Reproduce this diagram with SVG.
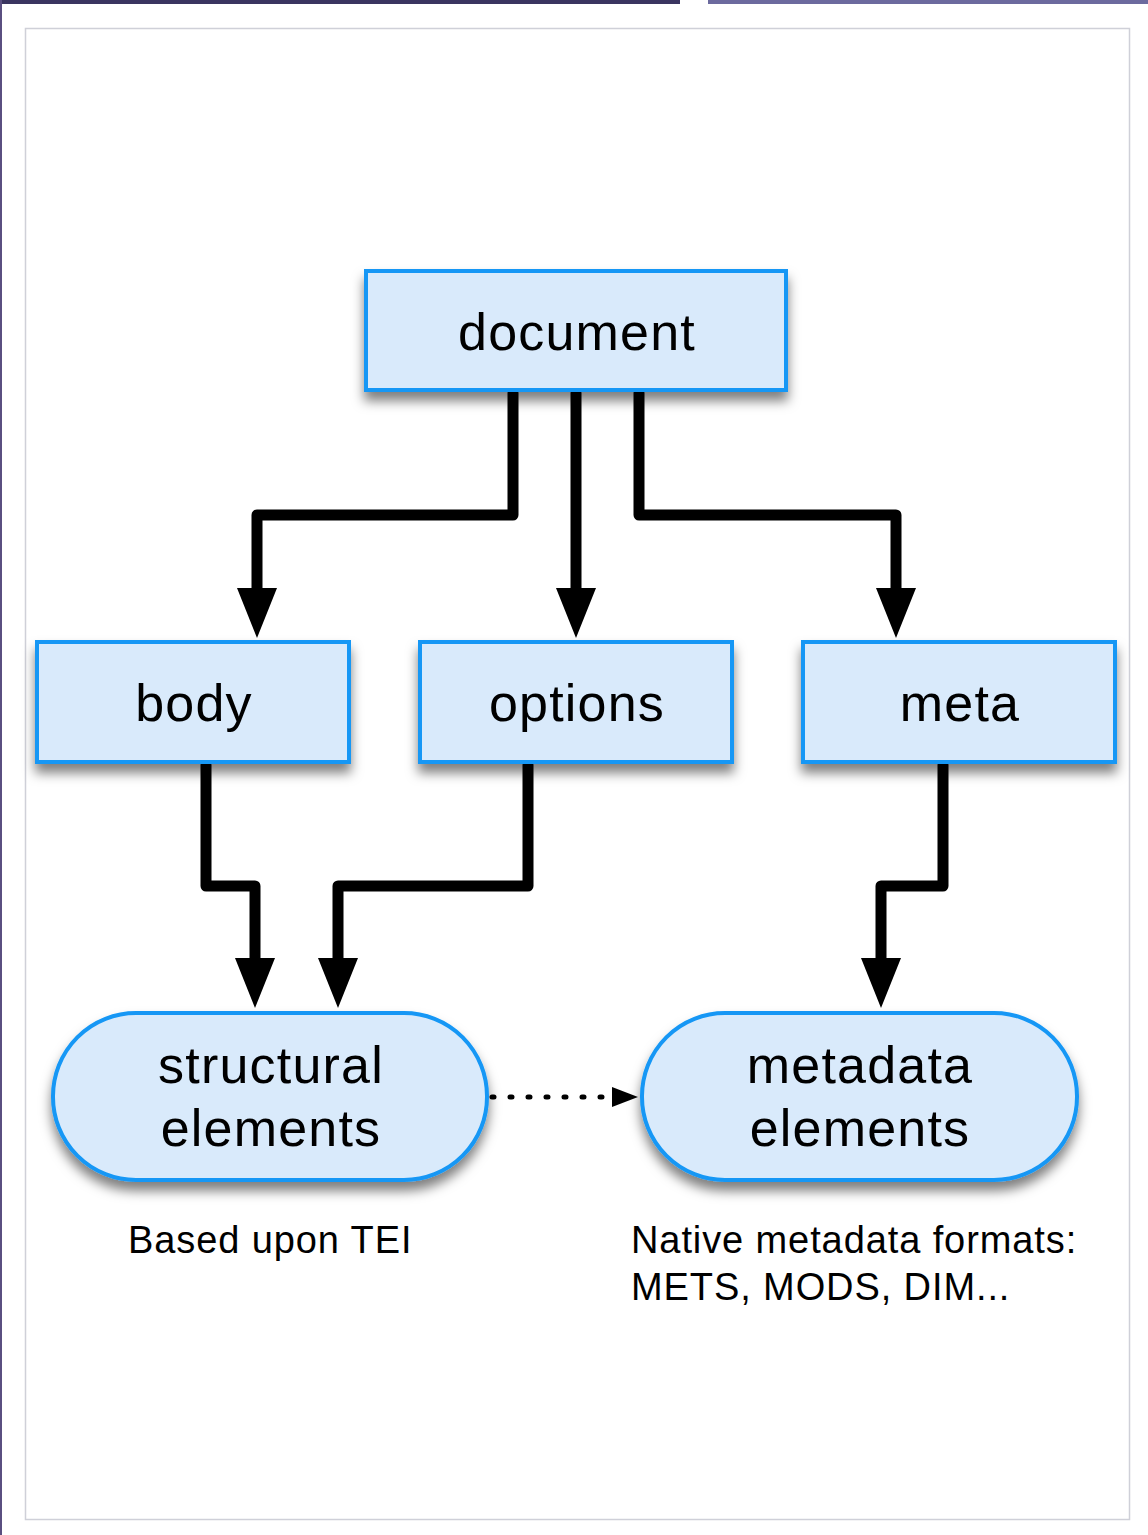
<svg xmlns="http://www.w3.org/2000/svg" width="1148" height="1535" viewBox="0 0 1148 1535">
<style>
.node{fill:#d9eafb;stroke:#1597f5;stroke-width:4;filter:url(#sh)}
.lbl{font-family:"Liberation Sans",Arial,sans-serif;font-size:52px;letter-spacing:1.2px;fill:#000;text-anchor:middle}
.note{font-family:"Liberation Sans",Arial,sans-serif;font-size:38px;letter-spacing:0.9px;fill:#000}
.conn{fill:none;stroke:#000;stroke-width:11;stroke-linejoin:round;stroke-linecap:round}
.dot{fill:none;stroke:#000;stroke-width:5;stroke-dasharray:2 16;stroke-linecap:round}
</style>
<defs>
<filter id="sh" x="-10%" y="-20%" width="120%" height="150%">
<feDropShadow dx="0" dy="9" stdDeviation="6" flood-color="#000" flood-opacity="0.5"/>
</filter>
<marker id="ah" viewBox="0 0 50 40" refX="2" refY="20" markerWidth="50" markerHeight="40" markerUnits="userSpaceOnUse" orient="auto">
<path d="M0,0 L50,20 L0,40 Z" fill="#000"/>
</marker>
</defs>
<rect width="1148" height="1535" fill="#fff"/>
<rect x="0" y="0" width="680" height="4" fill="#3a3560"/>
<rect x="708" y="0" width="440" height="4" fill="#6c6a9e"/>
<rect x="0" y="0" width="2" height="1535" fill="#5a4f80"/>
<rect x="25.5" y="28.5" width="1104" height="1491" fill="none" stroke="#cfd0d8" stroke-width="1.5"/>
<g id="connectors">
<path class="conn" d="M513,393 V515 H257 V590" marker-end="url(#ah)"/>
<path class="conn" d="M576,393 V590" marker-end="url(#ah)"/>
<path class="conn" d="M639,393 V515 H896 V590" marker-end="url(#ah)"/>
<path class="conn" d="M206,765 V886 H255 V960" marker-end="url(#ah)"/>
<path class="conn" d="M528,765 V886 H338 V960" marker-end="url(#ah)"/>
<path class="conn" d="M943,765 V886 H881 V960" marker-end="url(#ah)"/>
<path class="dot" d="M492,1097 H610"/>
<path d="M612,1087 L638,1097 L612,1107 Z" fill="#000"/>
</g>
<g id="document">
<rect class="node" x="366" y="271" width="420" height="119"/>
<text class="lbl" x="577" y="350">document</text>
</g>
<g id="body">
<rect class="node" x="37" y="642" width="312" height="120"/>
<text class="lbl" x="194" y="721">body</text>
</g>
<g id="options">
<rect class="node" x="420" y="642" width="312" height="120"/>
<text class="lbl" x="577" y="721">options</text>
</g>
<g id="meta">
<rect class="node" x="803" y="642" width="312" height="120"/>
<text class="lbl" x="960" y="721">meta</text>
</g>
<g id="structural">
<rect class="node" x="53" y="1013" width="434" height="167" rx="83" ry="83"/>
<text class="lbl" x="271" y="1083">structural</text>
<text class="lbl" x="271" y="1146">elements</text>
</g>
<g id="metadata">
<rect class="node" x="642" y="1013" width="435" height="167" rx="83" ry="83"/>
<text class="lbl" x="860" y="1083">metadata</text>
<text class="lbl" x="860" y="1146">elements</text>
</g>
<g id="notes">
<text class="note" x="128" y="1253">Based upon TEI</text>
<text class="note" x="631" y="1253">Native metadata formats:</text>
<text class="note" x="631" y="1300">METS, MODS, DIM...</text>
</g>
</svg>
